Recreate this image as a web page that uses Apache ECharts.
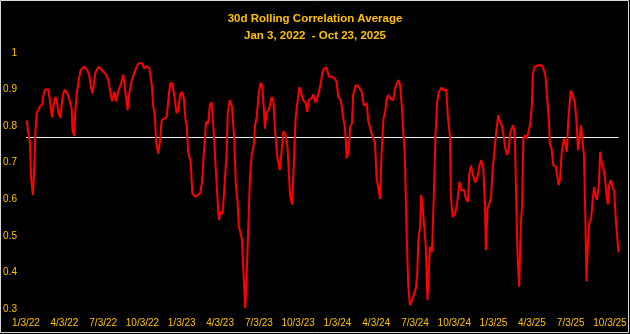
<!DOCTYPE html>
<html>
<head>
<meta charset="utf-8">
<script src="https://cdn.jsdelivr.net/npm/echarts@6/dist/echarts.min.js"></script>
<style>
html,body{margin:0;padding:0;background:#000;}
#chart{width:630px;height:334px;}
</style>
</head>
<body>
<div id="chart"></div>
<script>
// Data
const titleText = '30d Rolling Correlation Average';
const subtitleText = 'Jan 3, 2022  - Oct 23, 2025';
const startDate = '2022-01-03';
const endDate = '2025-10-23';
const tickLabels = ['1/3/22','4/3/22','7/3/22','10/3/22','1/3/23','4/3/23','7/3/23','10/3/23','1/3/24','4/3/24','7/3/24','10/3/24','1/3/25','4/3/25','7/3/25','10/3/25'];
const yTicks = [0.3, 0.4, 0.5, 0.6, 0.7, 0.8, 0.9, 1];
const averageValue = 0.767;
// days since 2022-01-03
const dayOffsets = [
  2,5,9,12,16,19,22,25,29,33,
  38,41,45,52,56,61,64,69,72,76,
  81,86,91,97,103,107,109,113,116,119,
  123,128,136,142,148,152,156,159,163,170,
  178,188,193,197,202,207,211,216,223,228,
  232,234,238,242,248,252,258,263,269,274,
  277,283,289,295,298,302,305,310,314,318,
  324,330,334,338,343,348,353,357,361,366,
  370,374,377,380,386,390,396,402,408,413,
  416,420,422,427,431,435,439,443,447,452,
  456,461,465,470,473,478,483,488,492,496,
  499,506,509,514,517,521,525,529,534,537,
  541,545,550,554,558,560,564,570,576,580,
  584,589,595,599,603,609,613,619,624,628,
  632,636,641,645,650,656,659,663,670,673,
  679,685,691,695,699,705,710,717,724,728,
  732,738,744,748,752,756,760,764,767,773,
  779,783,787,792,799,802,808,814,818,822,
  826,830,834,838,842,845,849,855,861,865,
  873,877,881,884,888,892,896,900,904,908,
  914,917,920,924,926,929,933,937,941,945,
  947,952,956,960,964,968,974,980,985,989,
  994,996,1000,1006,1011,1016,1021,1027,1031,1036,
  1039,1043,1049,1053,1058,1063,1067,1072,1076,1078,
  1082,1086,1090,1094,1098,1102,1107,1111,1115,1119,
  1123,1128,1132,1135,1139,1142,1146,1149,1152,1156,
  1160,1163,1166,1170,1174,1178,1182,1186,1188,1192,
  1197,1205,1210,1214,1218,1222,1226,1228,1232,1236,
  1242,1245,1249,1252,1256,1261,1265,1268,1271,1277,
  1282,1287,1291,1294,1297,1301,1304,1308,1311,1314,
  1318,1321,1325,1328,1332,1334,1338,1343,1346,1350,
  1353,1357,1361,1364,1367,1371,1375,1379,1383,1389
];
const correlation = [
  .816,.783,.757,.658,.611,.675,.784,.835,.844,.855,
  .859,.885,.900,.901,.871,.824,.853,.880,.871,.835,
  .823,.885,.900,.889,.867,.848,.789,.773,.848,.889,
  .921,.953,.963,.956,.941,.907,.889,.894,.948,.962,
  .953,.941,.926,.898,.868,.894,.868,.894,.917,.941,
  .939,.885,.844,.889,.926,.939,.958,.971,.973,.969,
  .958,.964,.958,.912,.857,.830,.757,.725,.757,.816,
  .821,.825,.876,.917,.917,.880,.835,.844,.885,.894,
  .876,.816,.798,.730,.702,.616,.607,.611,.616,.648,
  .712,.775,.812,.807,.857,.865,.803,.721,.639,.543,
  .566,.561,.630,.721,.839,.871,.853,.766,.639,.593,
  .525,.493,.420,.302,.384,.520,.657,.721,.748,.803,
  .825,.885,.919,.910,.839,.793,.835,.848,.880,.867,
  .784,.716,.680,.730,.786,.775,.743,.611,.586,.702,
  .821,.862,.907,.907,.871,.862,.839,.871,.877,.887,
  .865,.885,.917,.948,.958,.960,.935,.935,.930,.921,
  .880,.871,.821,.793,.712,.730,.798,.807,.885,.912,
  .909,.914,.894,.857,.862,.816,.789,.766,.757,.657,
  .630,.601,.740,.821,.839,.871,.885,.874,.871,.903,
  .926,.912,.853,.793,.721,.520,.366,.311,.320,.325,
  .357,.393,.493,.525,.611,.593,.593,.475,.325,.420,
  .470,.457,.611,.775,.867,.894,.905,.898,.901,.825,
  .771,.611,.552,.561,.593,.648,.625,.625,.602,.593,
  .666,.692,.661,.646,.659,.693,.707,.684,.584,.461,
  .575,.570,.602,.684,.689,.780,.830,.812,.805,.780,
  .743,.721,.739,.783,.786,.803,.775,.611,.457,.361,
  .530,.584,.766,.775,.766,.766,.805,.857,.939,.962,
  .965,.967,.965,.953,.935,.871,.816,.753,.739,.693,
  .689,.684,.639,.657,.730,.766,.748,.730,.812,.898,
  .885,.862,.803,.734,.739,.803,.805,.721,.566,.375,
  .502,.539,.548,.593,.634,.616,.598,.639,.730,.698,
  .689,.661,.611,.586,.639,.653,.634,.621,.539,.455
];

const DAY = 86400000;
function parseISO(s){ const p = s.split('-').map(Number); return Date.UTC(p[0], p[1]-1, p[2]); }
function parseMDY(s){ const p = s.split('/').map(Number); return Date.UTC(2000+p[2], p[0]-1, p[1]); }
const start = parseISO(startDate);
const endDay = Math.round((parseISO(endDate) - start) / DAY);
const tickDays = tickLabels.map(s => Math.round((parseMDY(s) - start) / DAY));
const seriesData = dayOffsets.map((d, i) => [d, correlation[i]]);
const gold = '#FFC000';
const font = "'Liberation Sans', Arial, sans-serif";

const chart = echarts.init(document.getElementById('chart'), null, {renderer: 'canvas'});
chart.setOption({
  backgroundColor: '#000',
  animation: false,
  title: [
    {text: titleText, left: 'center', top: 8, textStyle: {color: gold, fontSize: 11.5, fontWeight: 'bold', fontFamily: font}},
    {text: subtitleText, left: 'center', top: 25, textStyle: {color: gold, fontSize: 11.5, fontWeight: 'bold', fontFamily: font}}
  ],
  graphic: [{type: 'rect', shape: {x: 0.5, y: 0.5, width: 628, height: 332}, style: {fill: null, stroke: '#d9d9d9', lineWidth: 1}, silent: true}],
  grid: {left: 26, right: 11.5, top: 53, bottom: 25, containLabel: false},
  xAxis: {
    type: 'value',
    min: 0,
    max: endDay,
    axisLine: {show: false},
    axisTick: {show: false},
    splitLine: {show: false},
    axisLabel: {
      customValues: tickDays,
      color: gold, fontSize: 10, fontFamily: font, margin: 9,
      formatter: function(v){ const i = tickDays.indexOf(Math.round(v)); return i >= 0 ? tickLabels[i] : ''; }
    }
  },
  yAxis: {
    type: 'value',
    min: yTicks[0], max: yTicks[yTicks.length-1], interval: 0.1,
    axisLine: {show: false},
    axisTick: {show: false},
    splitLine: {show: false},
    axisLabel: {color: gold, fontSize: 10, fontFamily: font, margin: 9}
  },
  series: [{
    type: 'line',
    data: seriesData,
    showSymbol: false,
    symbol: 'none',
    smooth: false,
    lineStyle: {color: '#FF0000', width: 2},
    z: 3,
    markLine: {
      silent: true,
      symbol: 'none',
      label: {show: false},
      lineStyle: {color: '#F2F2F2', width: 1, type: 'solid'},
      data: [{yAxis: averageValue}],
      z: 2
    }
  }]
});
</script>
</body>
</html>
